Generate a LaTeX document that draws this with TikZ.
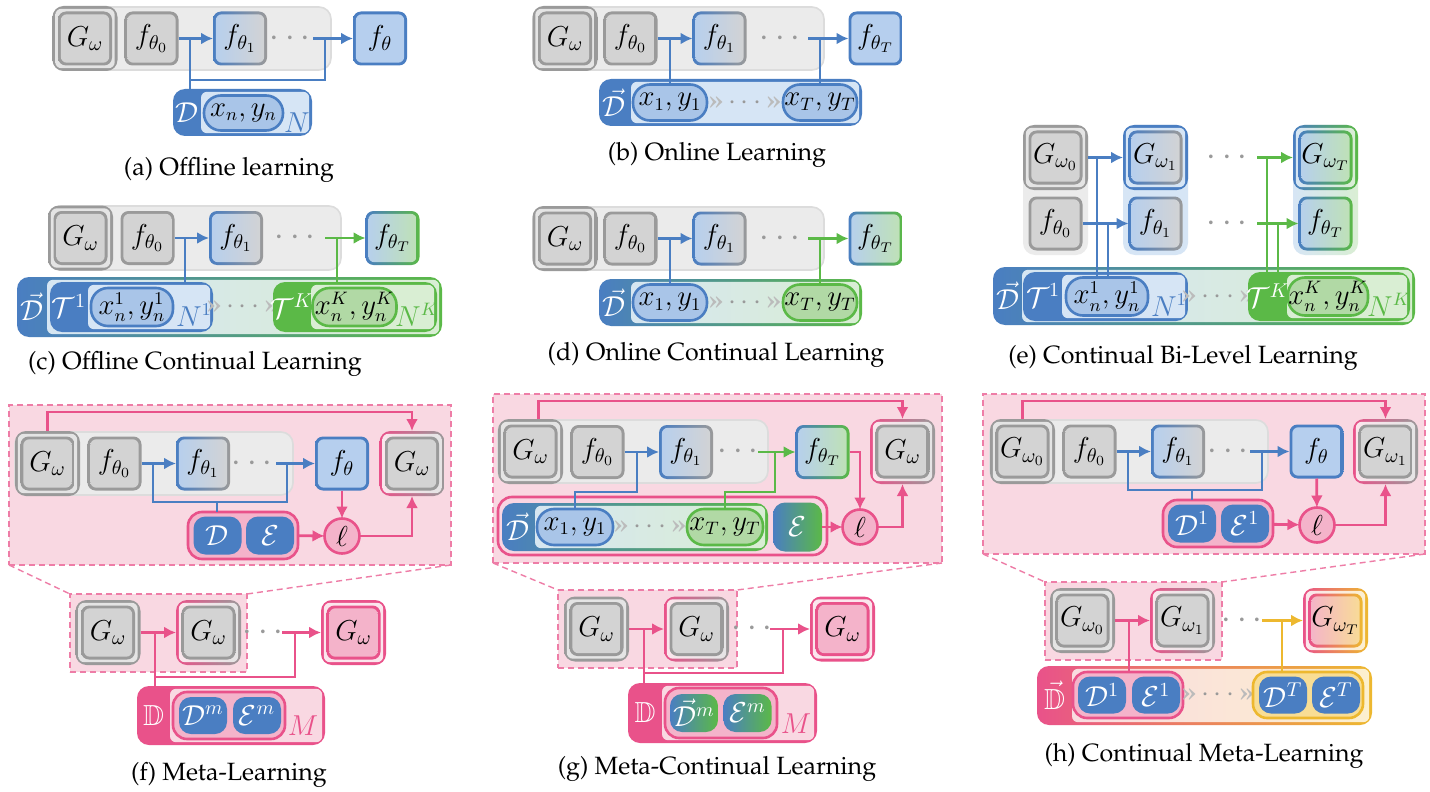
\documentclass[tikz,border=0pt]{standalone}
\usepackage[T1]{fontenc}
\renewcommand{\rmdefault}{ppl}
\usepackage{amssymb}
\usetikzlibrary{arrows.meta,fit}
\definecolor{cb}{HTML}{4A7EC2}
\definecolor{cbl}{HTML}{B6CFEE}
\definecolor{cbp}{HTML}{A9C5E8}
\definecolor{cbr}{HTML}{D6E5F5}
\definecolor{cg}{HTML}{5BB947}
\definecolor{cgl}{HTML}{BFE2B4}
\definecolor{cgp}{HTML}{B1D9A5}
\definecolor{cgr}{HTML}{D9EED3}
\definecolor{cp}{HTML}{E9528A}
\definecolor{cpl}{HTML}{F9D8E2}
\definecolor{cpm}{HTML}{F4B3CA}
\definecolor{cpw}{HTML}{FBE6ED}
\definecolor{cy}{HTML}{EDB82F}
\definecolor{cyl}{HTML}{F8DD94}
\definecolor{cyr}{HTML}{FCF0CF}
\definecolor{gb}{HTML}{9A9A9A}
\definecolor{gf}{HTML}{D3D3D3}
\definecolor{gw}{HTML}{E4E4E4}
\definecolor{gbg}{HTML}{EBEBEB}
\definecolor{gbd}{HTML}{DCDCDC}
\definecolor{chv}{HTML}{BBBBBB}
\tikzset{
 every node/.style={inner sep=0pt, outer sep=0pt, font=\fontsize{14.5}{17}\selectfont},
 ring5/.style n args={5}{left color=#1, right color=#2,
   path picture={\path[left color=#3, right color=#4, rounded corners=3pt]
     ([xshift=#5,yshift=1.4pt]path picture bounding box.south west) rectangle
     ([xshift=-1.4pt,yshift=-1.4pt]path picture bounding box.north east);}},
 ring/.style n args={4}{ring5={#1}{#2}{#3}{#4}{1.4pt}},
 bxf/.style={minimum size=27pt, rounded corners=4pt},
 bxo/.style={minimum size=32.5pt, rounded corners=5.5pt},
 gI/.style={ring={gb}{gb}{gf}{gf}},
 bgyI/.style={ring={cb}{gb}{cbl}{gf}},
 bI/.style={ring={cb}{cb}{cbl}{cbl}},
 bgI/.style={ring={cb}{cg}{cbl}{cgl}},
 pI/.style={ring={cp}{cp}{cpm}{cpm}},
 pyI/.style={ring={cp}{cy}{cpm}{cyl}},
 gO/.style={ring={gb}{gb}{gw}{gw}},
 pgO/.style={ring={cp}{gb}{cpw}{gw}},
 pO/.style={ring={cp}{cp}{cpw}{cpw}},
 bO/.style={ring={cb}{cb}{cbr}{cbr}},
 bgO/.style={ring={cb}{cg}{cbr}{cgr}},
 pyO/.style={ring={cp}{cy}{cpw}{cyr}},
 cont/.style={rounded corners=6pt},
 gbgs/.style={fill=gbg, draw=gbd, line width=0.8pt, rounded corners=6pt},
 dbox/.style={fill=cpl, draw=cp!75, line width=0.7pt, dash pattern=on 3pt off 2pt},
 dl/.style={draw=cp!75, line width=0.7pt, dash pattern=on 3pt off 2pt},
 pillb/.style={draw=cb, fill=cbp, line width=1.3pt, rounded corners=8.5pt, font=\fontsize{13.5}{16}\selectfont},
 pillg/.style={draw=cg, fill=cgp, line width=1.3pt, rounded corners=8.5pt, font=\fontsize{13.5}{16}\selectfont},
 dpb/.style={fill=cb, text=white, rounded corners=6pt},
 dpg/.style={left color=cb, right color=cg, text=white, rounded corners=6pt},
 pbox/.style={draw=cp, fill=cpm, line width=1.3pt, rounded corners=7pt},
 ybox/.style={draw=cy, fill=cyl, line width=1.3pt, rounded corners=7pt},
 lc/.style={circle, draw=cp, fill=cpm, line width=1.3pt, minimum size=17.5pt},
 lab/.style={text=white},
 nlab/.style={font=\fontsize{13.5}{16}\selectfont},
 dts/.style={text=gb, font=\fontsize{17}{19}\selectfont},
 capt/.style={font=\fontsize{12.5}{15}\selectfont},
 ab/.style={draw=cb, line width=1.4pt, -{Latex[length=6pt,width=6pt]}},
 lb/.style={draw=cb, line width=1.4pt},
 ag/.style={draw=cg, line width=1.4pt, -{Latex[length=6pt,width=6pt]}},
 lg/.style={draw=cg, line width=1.4pt},
 ap/.style={draw=cp, line width=1.4pt, -{Latex[length=6pt,width=6pt]}},
 lp/.style={draw=cp, line width=1.4pt},
 ay/.style={draw=cy, line width=1.4pt, -{Latex[length=6pt,width=6pt]}},
 ly/.style={draw=cy, line width=1.4pt}
}
\newcommand\GG[5]{\node[bxo,#3] (#1) at (#2) {}; \node[bxf,#4] (#1-i) at (#2) {#5};}
\newcommand\FF[4]{\node[bxf,#3] (#1) at (#2) {#4};}
\newcommand\FT[4]{\node[#1, fit={(#3) (#4)}] (#2) {};}
\newcommand\PL[6]{\node[#1, minimum width={(#4)*0.5pt}, minimum height={(#5)*0.5pt}] (#2) at (#3) {#6};}
\newcommand\chev{{\color{chv}\textbf{\guillemotright}}\,{\color{gb}$\cdots$}\,{\color{chv}\textbf{\guillemotright}}}
\begin{document}
\begin{tikzpicture}[x=0.5pt,y=-0.5pt]
\useasboundingbox[fill=white] (0,0) rectangle (1430,792);
% ---------------- (a)
\FT{gbgs}{bgA}{53,7}{331,70}
\GG{GA}{85,38.5}{gO}{gI}{$G_\omega$}
\FF{fa0}{151.5,38.5}{gI}{$f_{\theta_0}$}
\FF{fa1}{240,38.5}{bgyI}{$f_{\theta_1}$}
\node[dts] (da) at (290,38.5) {$\cdots$};
\FF{faT}{380,38.5}{bI}{$f_\theta$}
\FT{cont,ring5={cb}{cb}{cbr}{cbr}{14pt}}{DA}{173,89}{312,136}
\node[lab] (DAl) at (187,112.5) {$\mathcal{D}$};
\PL{pillb}{pA}{243.5,113}{79}{35}{$x_n,y_n$}
\node[text=cb] (NA) at (297,123) {$N$};
\coordinate (ja1) at (190,38.5); \coordinate (ja2) at (325,38.5);
\coordinate (sa) at (313,38.5); \coordinate (ha) at (0,80);
\draw[ab] (fa0) -- (fa1);
\draw[lb] (ja1) -- (ja1 |- DA.north);
\draw[lb] (ja1 |- ha) -| (ja2);
\draw[ab] (sa) -- (faT);
\node[capt] (capa) at (229,170) {(a) Offline learning};
% ---------------- (b)
\FT{gbgs}{bgB}{533,7}{824,70}
\GG{GB}{565,38.5}{gO}{gI}{$G_\omega$}
\FF{fb0}{630.5,38.5}{gI}{$f_{\theta_0}$}
\FF{fb1}{719.5,38.5}{bgyI}{$f_{\theta_1}$}
\node[dts] (db) at (780,38.5) {$\cdots$};
\FF{fbT}{875.5,38.5}{bI}{$f_{\theta_T}$}
\FT{cont,ring5={cb}{cb}{cbr}{cbr}{16pt}}{DB}{599,79}{862,126}
\node[lab] (DBl) at (614,102.5) {$\vec{\mathcal{D}}$};
\PL{pillb}{pB1}{670,102.5}{74}{36}{$x_1,y_1$}
\PL{pillb}{pBT}{820,102.5}{74}{36}{$x_T,y_T$}
\node (chb) at (745,102.5) {\chev};
\coordinate (jb1) at (670,38.5); \coordinate (jb2) at (820,38.5); \coordinate (sb) at (808,38.5);
\draw[ab] (fb0) -- (fb1);
\draw[lb] (jb1) -- (pB1.north);
\draw[ab] (sb) -- (fbT);
\draw[lb] (jb2) -- (pBT.north);
\node[capt] (capb) at (717,155) {(b) Online Learning};
% ---------------- (c)
\FT{gbgs}{bgC}{49,206}{341,270}
\GG{GC}{80.5,238}{gO}{gI}{$G_\omega$}
\FF{fc0}{147.5,238}{gI}{$f_{\theta_0}$}
\FF{fc1}{236,238}{bgyI}{$f_{\theta_1}$}
\node[dts] (dc) at (295,238) {$\cdots$};
\FF{fcT}{392.5,238}{bgI}{$f_{\theta_T}$}
\FT{cont,ring5={cb}{cg}{cbr}{cgr}{15pt}}{DC}{17,277}{442,337}
\node[lab] (DCl) at (32,307) {$\vec{\mathcal{D}}$};
\FT{cont,ring5={cb}{cb}{cbr}{cbr}{19pt}}{TC1}{50,282}{213,332}
\node[lab] (TC1l) at (69,306) {$\mathcal{T}^1$};
\PL{pillb}{pC1}{132,307}{82}{38}{$x_n^1,y_n^1$}
\node[text=cb,nlab] (NC1) at (194,315) {$N^1$};
\node (chc) at (243,307) {\chev};
\FT{cont,ring5={cg}{cg}{cgr}{cgr}{19pt}}{TCK}{273,282}{437,332}
\node[lab] (TCKl) at (292,306) {$\mathcal{T}^K$};
\PL{pillg}{pCK}{354.5,307}{84}{38}{$x_n^K,y_n^K$}
\node[text=cg,nlab] (NCK) at (417,315) {$N^K$};
\coordinate (jc1) at (185,238); \coordinate (jc2) at (337,238); \coordinate (sc) at (325,238);
\draw[ab] (fc0) -- (fc1);
\draw[lb] (jc1) -- (jc1 |- TC1.north);
\draw[ag] (sc) -- (fcT);
\draw[lg] (jc2) -- (jc2 |- TCK.north);
\node[capt] (capc) at (195,364) {(c) Offline Continual Learning};
% ---------------- (d)
\FT{gbgs}{bgD}{533,207}{824,270}
\GG{GD}{565,238.5}{gO}{gI}{$G_\omega$}
\FF{fd0}{630.5,238.5}{gI}{$f_{\theta_0}$}
\FF{fd1}{719.5,238.5}{bgyI}{$f_{\theta_1}$}
\node[dts] (dd) at (780,238.5) {$\cdots$};
\FF{fdT}{875.5,238.5}{bgI}{$f_{\theta_T}$}
\FT{cont,ring5={cb}{cg}{cbr}{cgr}{16pt}}{DD}{599,279}{862,326}
\node[lab] (DDl) at (614,302.5) {$\vec{\mathcal{D}}$};
\PL{pillb}{pD1}{670,302.5}{74}{36}{$x_1,y_1$}
\PL{pillg}{pDT}{820,302.5}{74}{36}{$x_T,y_T$}
\node (chd) at (745,302.5) {\chev};
\coordinate (jd1) at (670,238.5); \coordinate (jd2) at (820,238.5); \coordinate (sd) at (808,238.5);
\draw[ab] (fd0) -- (fd1);
\draw[lb] (jd1) -- (pD1.north);
\draw[ag] (sd) -- (fdT);
\draw[lg] (jd2) -- (pDT.north);
\node[capt] (capd) at (716,355) {(d) Online Continual Learning};
% ---------------- (e)
\FT{cont,fill=gbg}{cE0}{1023,125}{1088,255}
\FT{cont,fill=cbr}{cE1}{1123,125}{1188,255}
\FT{cont,left color=cbr,right color=cgr}{cET}{1293,125}{1358,255}
\GG{GE0}{1055.5,157.5}{gO}{gI}{$G_{\omega_0}$}
\FF{fe0}{1055.5,223.5}{gI}{$f_{\theta_0}$}
\GG{GE1}{1155.5,157.5}{bO}{bgyI}{$G_{\omega_1}$}
\FF{fe1}{1155.5,223.5}{bgyI}{$f_{\theta_1}$}
\GG{GET}{1325.5,157.5}{bgO}{bgI}{$G_{\omega_T}$}
\FF{feT}{1325.5,223.5}{bgI}{$f_{\theta_T}$}
\node[dts] (de1) at (1227,157.5) {$\cdots$};
\node[dts] (de2) at (1227,223.5) {$\cdots$};
\FT{cont,ring5={cb}{cg}{cbr}{cgr}{14.5pt}}{DE}{993,267}{1415,325}
\node[lab] (DEl) at (1008,296) {$\vec{\mathcal{D}}$};
\FT{cont,ring5={cb}{cb}{cbr}{cbr}{19.5pt}}{TE1}{1023,272}{1188,321}
\node[lab] (TE1l) at (1043,295.5) {$\mathcal{T}^1$};
\PL{pillb}{pE1}{1107,296.5}{82}{38}{$x_n^1,y_n^1$}
\node[text=cb,nlab] (NE1) at (1169,305) {$N^1$};
\node (che) at (1218,296.5) {\chev};
\FT{cont,ring5={cg}{cg}{cgr}{cgr}{19.5pt}}{TEK}{1248,272}{1410,321}
\node[lab] (TEKl) at (1268,295.5) {$\mathcal{T}^K$};
\PL{pillg}{pEK}{1328,296.5}{80}{38}{$x_n^K,y_n^K$}
\node[text=cg,nlab] (NEK) at (1389,305) {$N^K$};
\coordinate (je1) at (1097,157.5); \coordinate (je2) at (1108,223.5);
\coordinate (se1) at (1257,157.5); \coordinate (se2) at (1257,223.5);
\coordinate (je3) at (1267,157.5); \coordinate (je4) at (1278,223.5);
\draw[ab] (GE0) -- (GE1);
\draw[ab] (fe0) -- (fe1);
\draw[lb] (je1) -- (je1 |- pE1.north);
\draw[lb] (je2) -- (je2 |- pE1.north);
\draw[ag] (se1) -- (GET);
\draw[ag] (se2) -- (feT);
\draw[lg] (je3) -- (je3 |- TEK.north);
\draw[lg] (je4) -- (je4 |- TEK.north);
\node[capt] (cape) at (1183,358) {(e) Continual Bi-Level Learning};
% ---------------- (f)
\FT{dbox}{BF}{9,405}{451,565}
\FT{dbox}{SF}{70,594}{247,672}
\draw[dl] (BF.south west) -- (SF.north west);
\draw[dl] (BF.south east) -- (SF.north east);
\FT{gbgs}{bgF}{15,432}{293,495}
\GG{GF}{47.5,463.5}{gO}{gI}{$G_\omega$}
\FF{ff0}{114.5,463.5}{gI}{$f_{\theta_0}$}
\FF{ff1}{203,463.5}{bgyI}{$f_{\theta_1}$}
\node[dts] (df) at (252,463.5) {$\cdots$};
\FF{ffT}{342,463.5}{bI}{$f_\theta$}
\GG{GF2}{412,463.5}{pgO}{gI}{$G_\omega$}
\FT{pbox}{DEF}{188,512}{298,559}
\PL{dpb}{DF}{217.5,535.5}{48}{38}{$\mathcal{D}$}
\PL{dpb}{EF}{270,535.5}{48}{38}{$\mathcal{E}$}
\node[lc] (lF) at (342,536) {$\ell$};
\coordinate (jf1) at (153,463.5); \coordinate (jf2) at (287,463.5); \coordinate (sf) at (276,463.5);
\coordinate (hf) at (0,502); \coordinate (jf3) at (217,502);
\draw[ap] (GF.north) -- ++(0,-19) -| (GF2.north);
\draw[ab] (ff0) -- (ff1);
\draw[lb] (jf1) |- (jf2 |- hf) -- (jf2);
\draw[ab] (sf) -- (ffT);
\draw[lb] (jf3) -- (jf3 |- DEF.north);
\draw[ap] (ffT) -- (lF);
\draw[ap] (DEF) -- (lF);
\draw[ap] (lF) -| (GF2.south);
\GG{GF3}{108,632.5}{gO}{gI}{$G_\omega$}
\GG{GF4}{208.5,632.5}{pgO}{gI}{$G_\omega$}
\node[dts] (df2) at (263,632.5) {$\cdots$};
\GG{GF5}{353.5,632.5}{pO}{pI}{$G_\omega$}
\FT{cont,ring5={cp}{cp}{cpl}{cpl}{16.5pt}}{DDF}{137,686}{325,745}
\node[lab] (DDFl) at (153.5,715.5) {$\mathbb{D}$};
\FT{pbox}{iF}{173,692}{285,739}
\PL{dpb}{DmF}{203,715.5}{48}{37}{$\mathcal{D}^m$}
\PL{dpb}{EmF}{257,715.5}{48}{37}{$\mathcal{E}^m$}
\node[text=cp] (MF) at (303,726) {$M$};
\coordinate (jf4) at (155,632.5); \coordinate (sf2) at (282,632.5); \coordinate (jf5) at (295,632.5);
\coordinate (hf2) at (0,677);
\draw[ap] (GF3) -- (GF4);
\draw[lp] (jf4) -- (jf4 |- DDF.north);
\draw[ap] (sf2) -- (GF5);
\draw[lp] (jf5) |- (jf4 |- hf2);
\node[capt] (capf) at (229,775) {(f) Meta-Learning};
% ---------------- (g)
\FT{dbox}{BG}{493,394}{942,563}
\FT{dbox}{SG}{558,590}{737,668}
\draw[dl] (BG.south west) -- (SG.north west);
\draw[dl] (BG.south east) -- (SG.north east);
\FT{gbgs}{bgG}{498,420}{768,483}
\GG{GG1}{530.5,451.5}{gO}{gI}{$G_\omega$}
\FF{fg0}{597.5,452}{gI}{$f_{\theta_0}$}
\FF{fg1}{686,452}{bgyI}{$f_{\theta_1}$}
\node[dts] (dg) at (738,452) {$\cdots$};
\FF{fgT}{822.5,452}{bgI}{$f_{\theta_T}$}
\GG{GG2}{902.5,451.5}{pgO}{gI}{$G_\omega$}
\FT{draw=cp, fill=cpm!55, line width=1.3pt, rounded corners=7pt}{OG}{498,497}{827,555}
\FT{cont,ring5={cb}{cg}{cbr}{cgr}{16.5pt}}{DG}{502,503}{768,551}
\node[lab] (DGl) at (518,527) {$\vec{\mathcal{D}}$};
\PL{pillb}{pG1}{575,527}{76}{36}{$x_1,y_1$}
\PL{pillg}{pGT}{725,527}{76}{36}{$x_T,y_T$}
\node (chg) at (650,527) {\chev};
\PL{dpg}{EG}{797.5,527}{49}{49}{$\mathcal{E}$}
\node[lc] (lG) at (860,527) {$\ell$};
\coordinate (jg1) at (637,452); \coordinate (sg) at (758,452); \coordinate (jg3) at (775,452);
\coordinate (hg) at (0,492);
\draw[ap] ([xshift=4pt]GG1.north) -- ++(0,-18) -| (GG2.north);
\draw[ab] (fg0) -- (fg1);
\draw[lb] (jg1) |- (pG1.north |- hg) -- (pG1.north);
\draw[ag] (sg) -- (fgT);
\draw[lg] (jg3) |- (pGT.north |- hg) -- (pGT.north);
\draw[ap] (fgT) -| (lG);
\draw[ap] (EG) -- (lG);
\draw[ap] (lG) -| (GG2.south);
\GG{GG3}{596.5,629}{gO}{gI}{$G_\omega$}
\GG{GG4}{696.5,629}{pgO}{gI}{$G_\omega$}
\node[dts] (dg2) at (752,629) {$\cdots$};
\GG{GG5}{842.5,629}{pO}{pI}{$G_\omega$}
\FT{cont,ring5={cp}{cp}{cpl}{cpl}{17pt}}{DDG}{628,683}{817,743}
\node[lab] (DDGl) at (645,713) {$\mathbb{D}$};
\FT{pbox}{iG}{665,688}{777,738}
\PL{dpg}{DmG}{694,713}{48}{38}{$\vec{\mathcal{D}}^m$}
\PL{dpg}{EmG}{747.5,713}{48}{38}{$\mathcal{E}^m$}
\node[text=cp] (MG) at (796,724) {$M$};
\coordinate (jg4) at (644,629); \coordinate (sg2) at (770,629); \coordinate (jg5) at (783,629);
\coordinate (hg2) at (0,673);
\draw[ap] (GG3) -- (GG4);
\draw[lp] (jg4) -- (jg4 |- DDG.north);
\draw[ap] (sg2) -- (GG5);
\draw[lp] (jg5) |- (jg4 |- hg2);
\node[capt] (capg) at (717,769) {(g) Meta-Continual Learning};
% ---------------- (h)
\FT{dbox}{BH}{983,394}{1425,554}
\FT{dbox}{SH}{1045,582}{1222,660}
\draw[dl] (BH.south west) -- (SH.north west);
\draw[dl] (BH.south east) -- (SH.north east);
\FT{gbgs}{bgH}{990,420}{1268,483}
\GG{GH0}{1022.5,451.5}{gO}{gI}{$G_{\omega_0}$}
\FF{fh0}{1089.5,451.5}{gI}{$f_{\theta_0}$}
\FF{fh1}{1178,451.5}{bgyI}{$f_{\theta_1}$}
\node[dts] (dh) at (1228,451.5) {$\cdots$};
\FF{fhT}{1316.5,451.5}{bI}{$f_\theta$}
\GG{GH1}{1385.5,451.5}{pgO}{gI}{$G_{\omega_1}$}
\FT{pbox}{DEH}{1163,500}{1273,547}
\PL{dpb}{DH}{1192,523.5}{48}{38}{$\mathcal{D}^1$}
\PL{dpb}{EH}{1245,523.5}{48}{38}{$\mathcal{E}^1$}
\node[lc] (lH) at (1317,525) {$\ell$};
\coordinate (jh1) at (1128,451.5); \coordinate (jh2) at (1262,451.5); \coordinate (sh) at (1250,451.5);
\coordinate (hh) at (0,490); \coordinate (jh3) at (1192,490);
\draw[ap] (GH0.north) -- ++(0,-18) -| (GH1.north);
\draw[ab] (fh0) -- (fh1);
\draw[lb] (jh1) |- (jh2 |- hh) -- (jh2);
\draw[ab] (sh) -- (fhT);
\draw[lb] (jh3) -- (jh3 |- DEH.north);
\draw[ap] (fhT) -- (lH);
\draw[ap] (DEH) -- (lH);
\draw[ap] (lH) -| (GH1.south);
\GG{GH2}{1082.5,620.5}{gO}{gI}{$G_{\omega_0}$}
\GG{GH3}{1182.5,620.5}{pgO}{gI}{$G_{\omega_1}$}
\node[dts] (dh2) at (1242,620.5) {$\cdots$};
\GG{GH4}{1335.5,620.5}{pyO}{pyI}{$G_{\omega_T}$}
\FT{cont,ring5={cp}{cy}{cpl}{cyr}{17.5pt}}{DDH}{1037,666}{1372,725}
\node[lab] (DDHl) at (1054.5,695.5) {$\vec{\mathbb{D}}$};
\FT{pbox}{D1H}{1073,672}{1183,718}
\PL{dpb}{D1Hd}{1102,695}{48}{37}{$\mathcal{D}^1$}
\PL{dpb}{D1He}{1156,695}{48}{37}{$\mathcal{E}^1$}
\node (chh) at (1218,695) {\chev};
\FT{ybox}{DTH}{1253,672}{1363,718}
\PL{dpb}{DTHd}{1283,695}{48}{37}{$\mathcal{D}^T$}
\PL{dpb}{DTHe}{1336,695}{48}{37}{$\mathcal{E}^T$}
\coordinate (jh4) at (1129,620.5); \coordinate (sh2) at (1262,620.5); \coordinate (jh5) at (1282,620.5);
\draw[ap] (GH2) -- (GH3);
\draw[lp] (jh4) -- (jh4 |- D1H.north);
\draw[ay] (sh2) -- (GH4);
\draw[ly] (jh5) -- (jh5 |- DTH.north);
\node[capt] (caph) at (1204,756) {(h) Continual Meta-Learning};
\end{tikzpicture}
\end{document}
